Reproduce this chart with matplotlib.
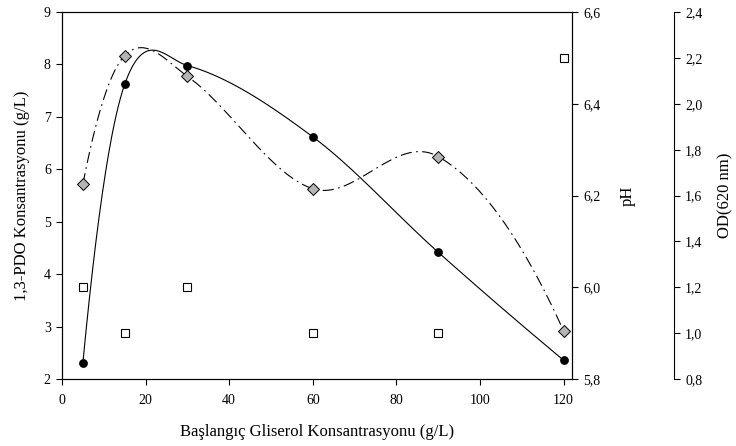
import numpy as np
import matplotlib
matplotlib.use('Agg')
from matplotlib import pyplot as plt

plt.rcParams['font.family'] = ['Liberation Serif', 'DejaVu Serif']

glycerol = [5, 15, 30, 60, 90, 120]
pdo = [2.31, 7.62, 7.98, 6.62, 4.42, 2.36]
ph = [6.0, 5.9, 6.0, 5.9, 5.9, 6.5]
od = [1.65, 2.21, 2.12, 1.63, 1.77, 1.01]


def smooth_curve(x, y, n=40):
    # cubic hermite with finite-difference tangents (spline style of the original plot)
    x = np.asarray(x, float)
    y = np.asarray(y, float)
    d = np.diff(y) / np.diff(x)
    m = np.empty_like(y)
    m[1:-1] = (y[2:] - y[:-2]) / (x[2:] - x[:-2])
    m[0] = 2 * d[0] - m[1]
    m[-1] = 2 * d[-1] - m[-2]
    xs_all, ys_all = [], []
    for i in range(len(x) - 1):
        h = x[i + 1] - x[i]
        t = np.linspace(0, 1, n)
        h00 = 2 * t**3 - 3 * t**2 + 1
        h10 = t**3 - 2 * t**2 + t
        h01 = -2 * t**3 + 3 * t**2
        h11 = t**3 - t**2
        xs_all.append(x[i] + t * h)
        ys_all.append(h00 * y[i] + h10 * h * m[i] + h01 * y[i + 1] + h11 * h * m[i + 1])
    return np.concatenate(xs_all), np.concatenate(ys_all)


fig = plt.figure(figsize=(7.36, 4.46), dpi=100)
ax = fig.add_axes([0.0842, 0.150, 0.6929, 0.823])
ax2 = ax.twinx()
ax3 = ax.twinx()

# PDO: solid curve + black circles
xs, ys = smooth_curve(glycerol, pdo)
ax.plot(xs, ys, color='black', lw=0.8)
ax.plot(glycerol, pdo, 'o', color='black', ms=5.3, zorder=5)

# pH: open squares
ax2.plot(glycerol, ph, 's', mfc='white', mec='black', mew=0.8, ms=5.2, ls='none')

# OD: dash-dot curve + grey diamonds
xs, ys = smooth_curve(glycerol, od)
ax3.plot(xs, ys, color='black', lw=0.8, dashes=(10, 4, 1.5, 4))
ax3.plot(glycerol, od, 'D', mfc='#b4b4b4', mec='black', mew=0.7, ms=6, ls='none', zorder=5)

ax.set_xlim(0, 122)
ax.set_ylim(2, 9)
ax2.set_ylim(5.8, 6.6)
ax3.set_ylim(0.8, 2.4)

ax.set_xticks([0, 20, 40, 60, 80, 100, 120])
ax.set_yticks(range(2, 10))
ax2.set_yticks([5.8, 6.0, 6.2, 6.4, 6.6])
ax2.set_yticklabels(['5,8', '6,0', '6,2', '6,4', '6,6'])
ax3.set_yticks([0.8, 1.0, 1.2, 1.4, 1.6, 1.8, 2.0, 2.2, 2.4])
ax3.set_yticklabels(['0,8', '1,0', '1,2', '1,4', '1,6', '1,8', '2,0', '2,2', '2,4'])

ax3.spines['right'].set_position(('axes', 1.2))
for s in ['left', 'top', 'bottom']:
    ax3.spines[s].set_visible(False)

for a in (ax, ax2, ax3):
    a.tick_params(direction='out', length=4, width=0.8, labelsize=10, pad=4)
    for s in a.spines.values():
        s.set_linewidth(0.8)
ax.tick_params(axis='x', pad=7)

ax.set_xlabel('Başlangıç Gliserol Konsantrasyonu (g/L)', fontsize=12, labelpad=12)
ax.set_ylabel('1,3-PDO Konsantrasyonu (g/L)', fontsize=12, labelpad=10)
ax2.set_ylabel('pH', fontsize=12, labelpad=14)
ax3.set_ylabel('OD(620 nm)', fontsize=12, labelpad=11)

plt.savefig('out.png', dpi=100)
